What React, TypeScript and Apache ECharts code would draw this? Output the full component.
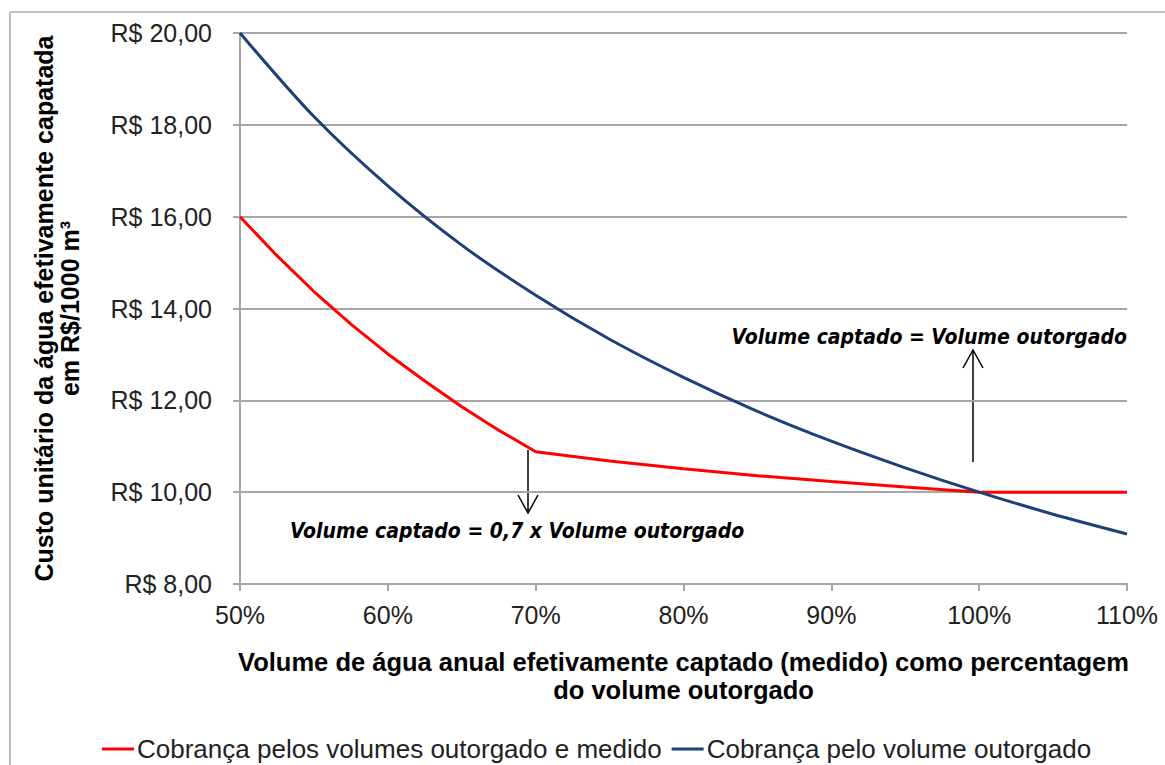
import React, { useEffect, useRef } from "react";
import * as echarts from "echarts";

const redX = [50, 52.5, 55, 57.5, 60, 62.5, 65, 67.5, 70, 75, 80, 85, 90, 95, 100, 105, 110];
const redValues = [16.0, 15.15, 14.37, 13.66, 13.01, 12.42, 11.86, 11.35, 10.88, 10.68, 10.51, 10.36, 10.23, 10.11, 10.0, 10.0, 10.0];
const blueX = [50, 55, 60, 65, 70, 75, 80, 85, 90, 95, 100, 105, 110];
const blueValues = [20.0, 18.18, 16.67, 15.38, 14.29, 13.33, 12.5, 11.76, 11.11, 10.53, 10.0, 9.52, 9.09];
const seriesNames = ["Cobrança pelos volumes outorgado e medido", "Cobrança pelo volume outorgado"];
const yTicks = { min: 8, max: 20, interval: 2 };
const xTicks = { min: 50, max: 110, interval: 10 };
const yTitle = "Custo unitário da água efetivamente capatada\nem R$/1000 m³";
const xTitle = "Volume de água anual efetivamente captado (medido) como percentagem\ndo volume outorgado";
const note1 = "Volume captado = Volume outorgado";
const note2 = "Volume captado = 0,7 x Volume outorgado";

export default function App() {
  const ref = useRef<HTMLDivElement>(null);
  useEffect(() => {
    const chart = echarts.init(ref.current!, null, { renderer: "svg" });
    const font = "'Liberation Sans', Arial, sans-serif";
    const noteFont = "'DejaVu Sans Condensed', 'DejaVu Sans', Verdana, sans-serif";
    chart.setOption({
      animation: false,
      backgroundColor: "#ffffff",
      grid: { left: 240, right: 38, top: 33, bottom: 181, containLabel: false },
      xAxis: {
        type: "value",
        min: xTicks.min,
        max: xTicks.max,
        interval: xTicks.interval,
        axisLine: { show: true, lineStyle: { color: "#a6a6a6", width: 2 } },
        axisTick: { show: true, length: 7, lineStyle: { color: "#a6a6a6", width: 2 } },
        splitLine: { show: false },
        axisLabel: { formatter: (v: number) => `${v}%`, fontFamily: font, fontSize: 25, color: "#222", margin: 18 },
        name: xTitle,
        nameLocation: "middle",
        nameGap: 64,
        nameTextStyle: { fontFamily: font, fontWeight: "bold", fontSize: 25.5, color: "#000", lineHeight: 28, align: "center" },
      },
      yAxis: {
        type: "value",
        min: yTicks.min,
        max: yTicks.max,
        interval: yTicks.interval,
        axisLine: { show: true, lineStyle: { color: "#a6a6a6", width: 2 } },
        axisTick: { show: true, length: 7, lineStyle: { color: "#a6a6a6", width: 2 } },
        splitLine: { show: true, lineStyle: { color: "#a6a6a6", width: 2 } },
        axisLabel: {
          formatter: (v: number) => `R$ ${v.toFixed(2).replace(".", ",")}`,
          fontFamily: font,
          fontSize: 25,
          color: "#222",
          margin: 28,
        },
        name: yTitle,
        nameLocation: "middle",
        nameRotate: 90,
        nameGap: 157,
        nameTextStyle: { fontFamily: font, fontWeight: "bold", fontSize: 25, color: "#000", lineHeight: 26, align: "center" },
      },
      legend: {
        left: 97,
        top: 731,
        itemWidth: 32,
        itemHeight: 3,
        itemGap: 10,
        icon: "rect",
        textStyle: { fontFamily: font, fontSize: 26, color: "#222", padding: [0, 0, 0, -2] },
        data: seriesNames,
      },
      series: [
        {
          name: seriesNames[0],
          type: "line",
          data: redX.map((x, i) => [x, redValues[i]]),
          smooth: false,
          showSymbol: false,
          lineStyle: { color: "#ff0000", width: 3 },
          itemStyle: { color: "#ff0000" },
        },
        {
          name: seriesNames[1],
          type: "line",
          data: blueX.map((x, i) => [x, blueValues[i]]),
          smooth: 0.3,
          showSymbol: false,
          lineStyle: { color: "#1f3f78", width: 3 },
          itemStyle: { color: "#1f3f78" },
        },
      ],
      graphic: [
        { type: "line", shape: { x1: 10, y1: 12, x2: 1165, y2: 12 }, style: { stroke: "#bfbfbf", lineWidth: 2 }, silent: true },
        { type: "line", shape: { x1: 10, y1: 12, x2: 10, y2: 765 }, style: { stroke: "#bfbfbf", lineWidth: 2 }, silent: true },
        { type: "line", shape: { x1: 973, y1: 462, x2: 973, y2: 350 }, style: { stroke: "#000", lineWidth: 1.5 } },
        { type: "polyline", shape: { points: [[963, 368], [973, 350], [983, 368]] }, style: { stroke: "#000", lineWidth: 1.5, fill: "none" } },
        { type: "line", shape: { x1: 528, y1: 450, x2: 528, y2: 513 }, style: { stroke: "#000", lineWidth: 1.5 } },
        { type: "polyline", shape: { points: [[518, 495], [528, 513], [538, 495]] }, style: { stroke: "#000", lineWidth: 1.5, fill: "none" } },
        {
          type: "text",
          x: 1127,
          y: 337,
          style: { text: note1, font: `italic bold 21px ${noteFont}`, fill: "#000", align: "right", verticalAlign: "middle" },
        },
        {
          type: "text",
          x: 290,
          y: 531,
          style: { text: note2, font: `italic bold 21px ${noteFont}`, fill: "#000", align: "left", verticalAlign: "middle" },
        },
      ],
    });
    return () => chart.dispose();
  }, []);
  return <div ref={ref} style={{ width: 1165, height: 765, position: "absolute", left: 0, top: 0 }} />;
}
